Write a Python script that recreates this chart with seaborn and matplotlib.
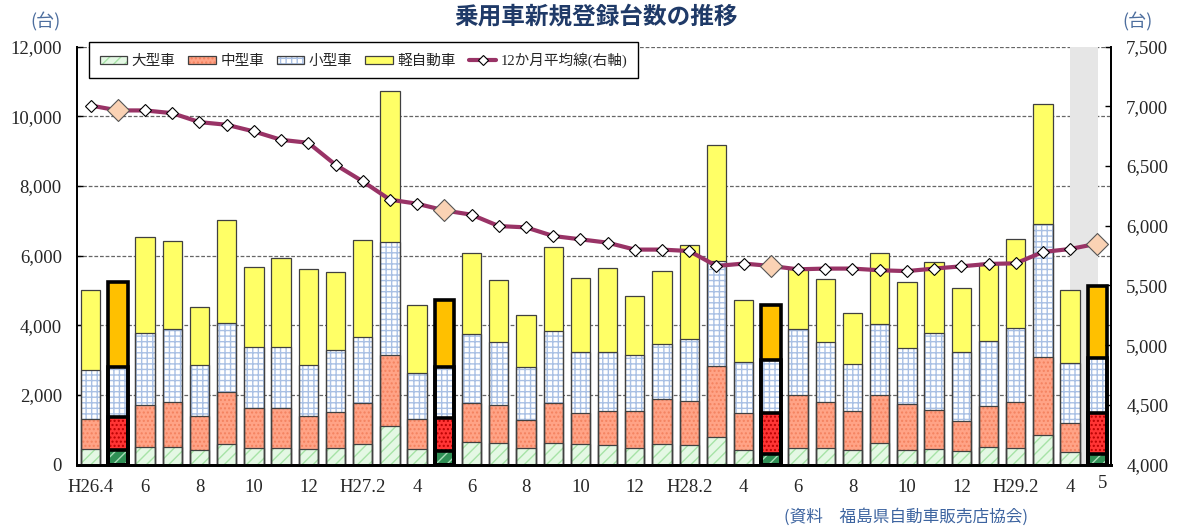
import numpy as np
import pandas as pd
import matplotlib
matplotlib.use('Agg')
import matplotlib.pyplot as plt
import seaborn as sns
from matplotlib.patches import Patch
from matplotlib.lines import Line2D

# monthly categories H26.4 (2014-04) .. H29.5 (2017-05)
months = [str(p) for p in pd.period_range('2014-04', '2017-05', freq='M')]

large = [439, 420, 515, 515, 420, 583, 487, 487, 439, 487, 602, 1119, 439, 400,
         640, 611, 468, 611, 583, 563, 468, 583, 563, 803, 411, 296, 468, 468,
         411, 611, 411, 439, 382, 497, 468, 860, 353, 296]
medium = [862, 958, 1198, 1293, 977, 1494, 1149, 1149, 958, 1034, 1178, 2031, 862, 930,
          1140, 1111, 805, 1150, 900, 987, 1082, 1293, 1274, 2022, 1072, 1177, 1523, 1322,
          1139, 1380, 1322, 1130, 862, 1178, 1322, 2241, 851, 1178]
small = [1408, 1418, 2060, 2098, 1456, 2002, 1754, 1754, 1456, 1782, 1878, 3229, 1322, 1485,
         1973, 1792, 1523, 2060, 1763, 1696, 1600, 1580, 1763, 3007, 1457, 1533, 1897, 1724,
         1341, 2041, 1609, 2213, 1983, 1868, 2127, 3794, 1707, 1598]
kei = [2300, 2452, 2759, 2500, 1676, 2931, 2270, 2538, 2749, 2213, 2778, 4339, 1945, 1906,
       2309, 1772, 1503, 2424, 2098, 2395, 1676, 2089, 2692, 3353, 1771, 1581, 1732, 1820,
       1457, 2049, 1906, 2032, 1840, 2237, 2558, 3469, 2107, 2061]
avg12 = [7006, 6965, 6965, 6942, 6867, 6845, 6789, 6719, 6694, 6510, 6371, 6218, 6184, 6128,
         6092, 5997, 5986, 5914, 5886, 5858, 5800, 5800, 5788, 5663, 5683, 5663, 5635, 5641,
         5641, 5627, 5620, 5641, 5660, 5680, 5685, 5780, 5805, 5850]

may_idx = [1, 13, 25, 37]
tick_pos = [0, 2, 4, 6, 8, 10, 12, 14, 16, 18, 20, 22, 24, 26, 28, 30, 32, 34, 36]
tick_labels = ['H26.4', '6', '8', '10', '12', 'H27.2', '4', '6', '8', '10', '12',
               'H28.2', '4', '6', '8', '10', '12', 'H29.2', '4']
last_label = '5'

names = ['大型車', '中型車', '小型車', '軽自動車']
line_name = '12か月平均線(右軸)'

sns.set_theme(style='white')
plt.rcParams['font.family'] = ['Liberation Serif', 'Noto Sans CJK JP']
plt.rcParams['hatch.linewidth'] = 1.0
CJK = ['Noto Sans CJK JP', 'Liberation Serif']

fig = plt.figure(figsize=(11.8, 5.31), dpi=100)
ax = fig.add_axes([0.0653, 0.125, 0.8762, 0.7874])

ax.axvspan(36.0, 37.03, color='#E6E6E6', lw=0, zorder=1)

df = pd.DataFrame({'month': months, 'large': large, 'medium': medium,
                   'small': small, 'kei': kei})
df['c_large'] = df['large']
df['c_medium'] = df['c_large'] + df['medium']
df['c_small'] = df['c_medium'] + df['small']
df['c_kei'] = df['c_small'] + df['kei']

# (column, face, hatch, hatch colour, may face, may hatch colour)
layers = [
    ('c_kei', '#FFFF66', None, '#FFFF66', '#FFC000', '#FFC000'),
    ('c_small', '#FFFFFF', '+++', '#A9C0E4', '#FFFFFF', '#A9C0E4'),
    ('c_medium', '#FFA386', '....', '#F4825F', '#FF3535', '#B80000'),
    ('c_large', '#E4F8E4', '///', '#A6E3A6', '#2F8F55', '#A8DDB8'),
]

for col, face, hatch, hcol, mface, mhcol in layers:
    sns.barplot(data=df, x='month', y=col, order=months, color=face, saturation=1,
                width=0.71, linewidth=0, edgecolor=hcol, errorbar=None, ax=ax, zorder=2)
    for i, p in enumerate(ax.containers[-1]):
        if hatch:
            p.set_hatch(hatch)
        if i in may_idx:
            p.set_facecolor(mface)
            p.set_edgecolor(mhcol)

for col, *_ in layers:
    sns.barplot(data=df, x='month', y=col, order=months, fill=False, color='#404040',
                saturation=1, width=0.71, linewidth=0.9, errorbar=None, ax=ax, zorder=3)
    for i, p in enumerate(ax.containers[-1]):
        if i in may_idx:
            p.set_edgecolor('black')
            p.set_linewidth(2.6)

ax.set_ylim(0, 12000)
ax.set_yticks(range(0, 12001, 2000))
ax.set_yticklabels([f'{v:,}' for v in range(0, 12001, 2000)])
ax.set_axisbelow(True)
ax.yaxis.grid(True, linestyle=(0, (3, 1.5)), color='#666666', lw=0.9)
ax.set_xlabel('')
ax.set_ylabel('')

# 12-month average on the right axis
ax2 = ax.twinx()
xs = np.arange(len(months))
sns.lineplot(x=xs, y=avg12, ax=ax2, color='#993366', lw=3, marker='D', markersize=6,
             markerfacecolor='white', markeredgecolor='black', markeredgewidth=0.8,
             legend=False, zorder=4)
sns.scatterplot(x=[xs[i] for i in may_idx], y=[avg12[i] for i in may_idx], ax=ax2,
                marker='D', s=125, color='#FAD2B4', edgecolor='#555555', linewidth=0.8,
                legend=False, zorder=5)
ax2.set_ylim(4000, 7500)
ax2.set_yticks(range(4000, 7501, 500))
ax2.set_yticklabels([f'{v:,}' for v in range(4000, 7501, 500)])
ax2.grid(False)
ax2.set_ylabel('')

ax.set_xlim(-0.5, 37.5)
ax.set_xticks(tick_pos)
ax.set_xticklabels(tick_labels)
ax.set_xticks(np.arange(-0.5, 38, 1), minor=True)
ax.tick_params(axis='x', which='major', length=0, pad=10, labelsize=13.5)
ax.tick_params(axis='x', which='minor', direction='in', length=4, width=0.8, color='black')
ax.tick_params(axis='y', direction='in', length=4, width=1, color='black', pad=11,
               labelsize=13.5, left=True)
ax2.tick_params(axis='y', direction='in', length=4, width=1, color='black', pad=11,
                labelsize=13.5, right=True)
ax.text(37.2, -0.045, last_label, transform=ax.get_xaxis_transform(), ha='center',
        va='center', fontsize=13.5)

for a in (ax, ax2):
    a.spines['top'].set_visible(False)
    for s in ('left', 'right', 'bottom'):
        a.spines[s].set_color('black')
    a.spines['left'].set_linewidth(1.3)
    a.spines['right'].set_linewidth(1.3)
    a.spines['bottom'].set_linewidth(2)

handles = [
    (Patch(facecolor='#E4F8E4', edgecolor='#A6E3A6', hatch='///', lw=0),
     Patch(facecolor='none', edgecolor='#404040', lw=0.9)),
    (Patch(facecolor='#FFA386', edgecolor='#F4825F', hatch='....', lw=0),
     Patch(facecolor='none', edgecolor='#404040', lw=0.9)),
    (Patch(facecolor='#FFFFFF', edgecolor='#A9C0E4', hatch='+++', lw=0),
     Patch(facecolor='none', edgecolor='#404040', lw=0.9)),
    (Patch(facecolor='#FFFF66', edgecolor='#404040', lw=0.9),),
    Line2D([], [], color='#993366', lw=3, marker='D', markersize=5,
           markerfacecolor='white', markeredgecolor='black', markeredgewidth=0.8),
]
leg = ax2.legend(handles, names + [line_name], loc='upper left',
                 bbox_to_anchor=(82 / 1180, 1 - 76 / 531, (645 - 82) / 1180, 41 / 531),
                 bbox_transform=fig.transFigure, mode='expand', ncol=5, frameon=True,
                 fancybox=False, edgecolor='black', framealpha=1, fontsize=10.5,
                 borderpad=0.7, handlelength=1.9, handleheight=0.45, handletextpad=0.3,
                 columnspacing=1.0)
leg.get_frame().set_linewidth(1.0)
leg.set_zorder(10)

fig.text(596 / 1180, 1 - 16.7 / 531, '乗用車新規登録台数の推移', ha='center', va='center',
         fontsize=17, fontweight='bold', color='#1F3A68', family=CJK)
fig.text(45 / 1180, 1 - 21.5 / 531, '(台)', ha='center', va='center', fontsize=13,
         color='#4D6E9E', family=CJK)
fig.text(1138 / 1180, 1 - 22 / 531, '(台)', ha='center', va='center', fontsize=13,
         color='#4D6E9E', family=CJK)
fig.text(906 / 1180, 1 - 517 / 531, '(資料　福島県自動車販売店協会)', ha='center',
         va='center', fontsize=12, color='#3D64A0', family=CJK)

fig.savefig('out.png', dpi=100)
